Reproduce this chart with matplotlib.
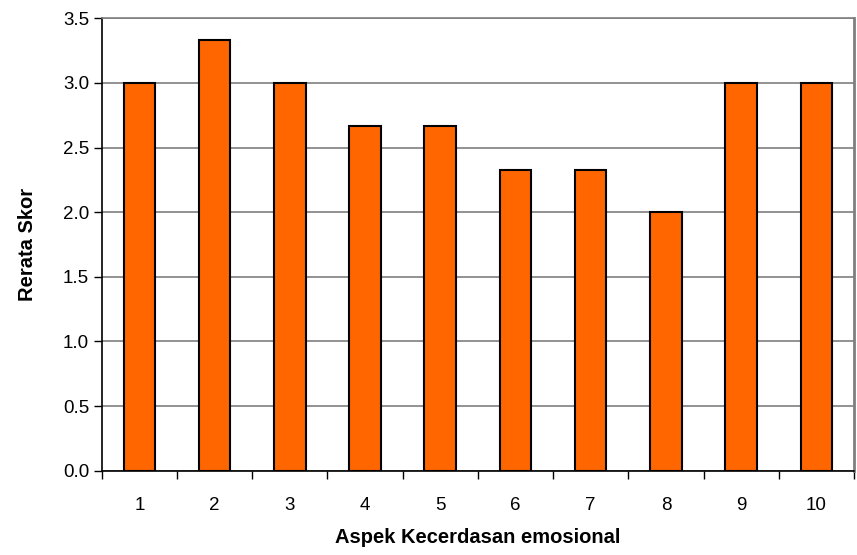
import numpy as np
import matplotlib
matplotlib.use("Agg")
import matplotlib.pyplot as plt

# data
aspek = ["1", "2", "3", "4", "5", "6", "7", "8", "9", "10"]
rerata_skor = [3.0, 3.33, 3.0, 2.67, 2.67, 2.33, 2.33, 2.0, 3.0, 3.0]
y_ticks = [0.0, 0.5, 1.0, 1.5, 2.0, 2.5, 3.0, 3.5]

plt.rcParams['font.family'] = ['Liberation Sans', 'DejaVu Sans']

fig = plt.figure(figsize=(8.57, 5.55), dpi=100)
ax = fig.add_axes([101.7 / 857, 1 - 470.7 / 555, (854 - 101.7) / 857, (470.7 - 18.3) / 555])

x = np.arange(len(aspek))
ax.bar(x, rerata_skor, width=0.42, color="#FF6600", edgecolor="black", linewidth=1.5, zorder=3)

ax.set_xlim(-0.5, len(aspek) - 0.5)
ax.set_ylim(0, 3.5)
ax.set_yticks(y_ticks)
ax.set_yticklabels([f"{v:.1f}" for v in y_ticks], fontsize=13.5)
ax.yaxis.grid(True, color="#7f7f7f", linewidth=1.2, zorder=0)

# x ticks sit between categories, labels centred under bars
ax.set_xticks(np.arange(-0.5, len(aspek), 1.0))
ax.set_xticklabels([])
ax.set_xticks(x, minor=True)
ax.set_xticklabels(aspek, minor=True, fontsize=13.5)
ax.tick_params(axis="x", which="minor", length=0, pad=19)
ax.tick_params(axis="x", which="major", length=6, width=1, direction="out")
ax.tick_params(axis="y", length=6, width=1, direction="out", pad=3)

for side in ["left", "bottom"]:
    ax.spines[side].set_color("black")
    ax.spines[side].set_linewidth(1.2)
ax.spines["top"].set_color("#7f7f7f")
ax.spines["top"].set_linewidth(1.2)
ax.spines["right"].set_color("#7f7f7f")
ax.spines["right"].set_linewidth(2)

ax.set_xlabel("Aspek Kecerdasan emosional", fontsize=14.5, fontweight="bold", labelpad=10)
ax.set_ylabel("Rerata Skor", fontsize=14.5, fontweight="bold", labelpad=19)

fig.savefig("out.png", dpi=100)
